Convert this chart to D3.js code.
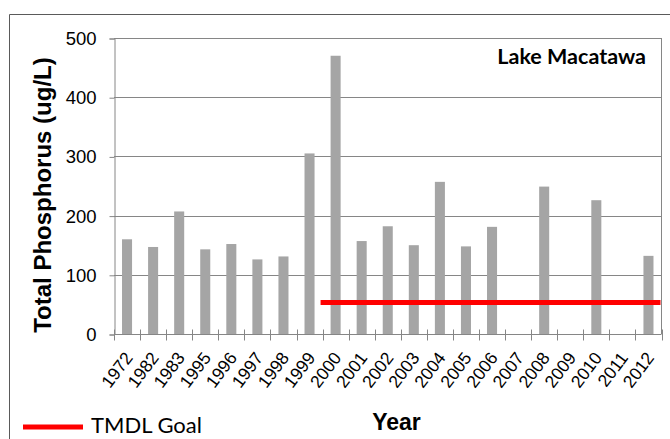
<!DOCTYPE html>
<html>
<head>
<meta charset="utf-8">
<script src="https://cdn.jsdelivr.net/npm/d3@7"></script>
<style>
  body { margin: 0; background: #fff; }
  svg { display: block; }
</style>
</head>
<body>
<div id="chart"></div>
<script>
// Lake Macatawa total phosphorus by sampling year
const years = ["1972", "1982", "1983", "1995", "1996", "1997", "1998", "1999", "2000", "2001",
  "2002", "2003", "2004", "2005", "2006", "2007", "2008", "2009", "2010", "2011", "2012"];
const phosphorus = [160, 147, 207, 143, 152, 126, 131, 305, 470, 157,
  182, 150, 257, 148, 181, null, 249, null, 226, null, 132];
const yTicks = [0, 100, 200, 300, 400, 500];
const tmdlGoal = 53;
const tmdlFrom = "2000";

const width = 670;
const height = 439;
const margin = { top: 38, right: 8.5, bottom: 105, left: 114 };

const svg = d3.select("#chart").append("svg")
  .attr("width", width)
  .attr("height", height);

// outer chart border (cropped on right/bottom)
svg.append("path")
  .attr("d", `M9.5,${height + 2}V14.5H${width + 2}`)
  .attr("fill", "none")
  .attr("stroke", "#5a5a5a")
  .attr("stroke-width", 1);

const x = d3.scaleBand()
  .domain(years)
  .range([margin.left, width - margin.right])
  .padding(0);

const y = d3.scaleLinear()
  .domain([0, 500])
  .range([height - margin.bottom, margin.top]);

const gridColor = "#868686";

// gridlines
svg.append("g")
  .selectAll("line")
  .data(yTicks.filter(d => d > 0))
  .join("line")
  .attr("x1", margin.left)
  .attr("x2", width - margin.right)
  .attr("y1", d => Math.round(y(d)) + 0.5)
  .attr("y2", d => Math.round(y(d)) + 0.5)
  .attr("stroke", gridColor);

// plot border right side
svg.append("line")
  .attr("x1", width - margin.right).attr("x2", width - margin.right)
  .attr("y1", margin.top).attr("y2", y(0))
  .attr("stroke", gridColor);

// bars
const barW = x.bandwidth() * 0.385;
svg.append("g")
  .selectAll("rect")
  .data(years.map((yr, i) => ({ yr, v: phosphorus[i] })).filter(d => d.v != null))
  .join("rect")
  .attr("x", d => x(d.yr) + (x.bandwidth() - barW) / 2)
  .attr("width", barW)
  .attr("y", d => y(d.v))
  .attr("height", d => y(0) - y(d.v))
  .attr("fill", "#a5a5a5");

// TMDL goal line
svg.append("line")
  .attr("x1", x(tmdlFrom) - 2)
  .attr("x2", width - margin.right - 1)
  .attr("y1", y(tmdlGoal))
  .attr("y2", y(tmdlGoal))
  .attr("stroke", "#ff0000")
  .attr("stroke-width", 5);

// y axis
const yAxis = d3.axisLeft(y).tickValues(yTicks).tickSize(5).tickPadding(13);
const gy = svg.append("g")
  .attr("transform", `translate(${margin.left + 0.5},0.5)`)
  .call(yAxis);
gy.select(".domain").attr("stroke", gridColor);
gy.selectAll(".tick line").attr("stroke", gridColor);
gy.selectAll(".tick text")
  .attr("font-family", "Liberation Sans, Arial, sans-serif")
  .attr("font-size", 18.5)
  .attr("fill", "#000");

// x axis with crossing tick marks at band edges
const gx = svg.append("g")
  .attr("transform", `translate(0,${Math.round(y(0)) + 0.5})`);
gx.append("line")
  .attr("x1", margin.left).attr("x2", width - margin.right)
  .attr("stroke", gridColor);
gx.selectAll("line.tk")
  .data(years.concat(["end"]))
  .join("line")
  .attr("class", "tk")
  .attr("x1", (d, i) => Math.round(margin.left + i * x.step()) + 0.5)
  .attr("x2", (d, i) => Math.round(margin.left + i * x.step()) + 0.5)
  .attr("y1", -5)
  .attr("y2", 6)
  .attr("stroke", gridColor);
gx.selectAll("text")
  .data(years)
  .join("text")
  .attr("transform", d => `translate(${x(d) + x.bandwidth() / 2 + 6.5},23.5) rotate(-53)`)
  .attr("text-anchor", "end")
  .attr("font-family", "Liberation Sans, Arial, sans-serif")
  .attr("font-size", 17.5)
  .attr("fill", "#000")
  .text(d => d);

// axis titles
svg.append("text")
  .attr("transform", `translate(51,195) rotate(-90)`)
  .attr("text-anchor", "middle")
  .attr("font-family", "Liberation Sans, Arial, sans-serif")
  .attr("font-weight", "bold")
  .attr("font-size", 24)
  .text("Total Phosphorus (ug/L)");

svg.append("text")
  .attr("x", 396.5)
  .attr("y", 430)
  .attr("text-anchor", "middle")
  .attr("font-family", "Liberation Sans, Arial, sans-serif")
  .attr("font-weight", "bold")
  .attr("font-size", 23)
  .text("Year");

// title inside plot
svg.append("text")
  .attr("x", 646)
  .attr("y", 64)
  .attr("text-anchor", "end")
  .attr("font-family", "Lato, sans-serif")
  .attr("font-weight", "bold")
  .attr("font-size", 21.5)
  .text("Lake Macatawa");

// legend
svg.append("line")
  .attr("x1", 23).attr("x2", 83)
  .attr("y1", 427).attr("y2", 427)
  .attr("stroke", "#ff0000")
  .attr("stroke-width", 5);
svg.append("text")
  .attr("x", 91)
  .attr("y", 432.5)
  .attr("font-family", "Lato, sans-serif")
  .attr("font-size", 22)
  .text("TMDL Goal");
</script>
</body>
</html>
